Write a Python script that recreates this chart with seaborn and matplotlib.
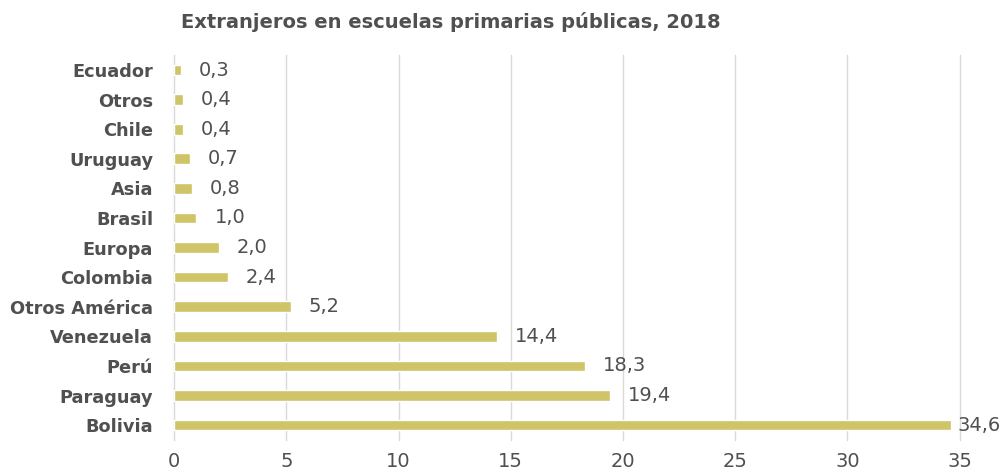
import matplotlib.pyplot as plt
import seaborn as sns
import pandas as pd

# data, top to bottom
countries = ['Ecuador', 'Otros', 'Chile', 'Uruguay', 'Asia', 'Brasil',
             'Europa', 'Colombia', 'Otros América', 'Venezuela', 'Perú',
             'Paraguay', 'Bolivia']
values = [0.3, 0.4, 0.4, 0.7, 0.8, 1.0, 2.0, 2.4, 5.2, 14.4, 18.3, 19.4, 34.6]
x_ticks = [0, 5, 10, 15, 20, 25, 30, 35]

TEXT = '#505050'
BAR = '#CFC468'


def main():
    sns.set_style('white')
    plt.rcParams['font.family'] = ['DejaVu Sans']
    df = pd.DataFrame({'pais': countries, 'valor': values})

    fig = plt.figure(figsize=(10.06, 4.72), dpi=100)
    ax = fig.add_axes([0.173, 0.068, 0.781, 0.815])
    sns.barplot(data=df, x='valor', y='pais', order=countries,
                color=BAR, saturation=1, width=0.36, ax=ax)

    # value labels, the last one squeezed in like the original
    for i, v in enumerate(values):
        ax.text(min(v + 0.8, 34.9), i, f'{v:.1f}'.replace('.', ','),
                va='center', ha='left', fontsize=14, color=TEXT)

    ax.set_xlim(0, 35)
    ax.set_ylim(12.5, -0.5)
    ax.set_xticks(x_ticks)
    ax.set_xticklabels([str(t) for t in x_ticks], fontsize=14, color=TEXT)
    ax.set_yticklabels(countries, fontsize=12.8, fontweight='bold',
                       color=TEXT)
    ax.tick_params(axis='y', length=0, pad=15)
    ax.tick_params(axis='x', length=0, pad=9)
    ax.set_xlabel('')
    ax.set_ylabel('')
    ax.grid(axis='x', color='#D9D9D9', linewidth=1)
    for line in ax.get_xgridlines():
        line.set_clip_on(False)
    ax.set_axisbelow(True)
    for s in ax.spines.values():
        s.set_visible(False)

    fig.text(0.448, 0.953, 'Extranjeros en escuelas primarias públicas, 2018',
             ha='center', va='center', fontsize=14, fontweight='bold',
             color=TEXT)
    fig.savefig('out.png', dpi=100)


if __name__ == '__main__':
    main()
